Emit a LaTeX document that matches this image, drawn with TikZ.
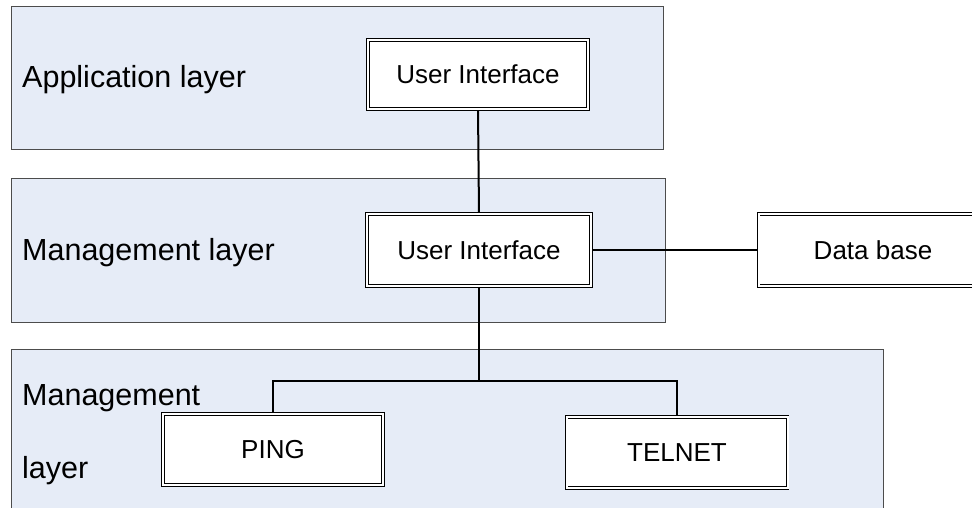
\documentclass[tikz,border=0pt]{standalone}
\usepackage{fontspec}
\setmainfont{Liberation Sans}
\usetikzlibrary{backgrounds}
\begin{document}
\begin{tikzpicture}[x=1pt,y=-1pt,
  layerbox/.style={draw=black!70,line width=1pt,fill=layerfill},
  layertext/.style={anchor=base west,inner sep=0pt,font=\fontsize{30.5}{36}\selectfont},
  modbox/.style={draw=black,line width=0.9pt,double=white,double distance=2pt,
    fill=white,inner sep=0pt,font=\fontsize{26}{31}\selectfont},
  conn/.style={draw=black,line width=2pt}]
\definecolor{layerfill}{RGB}{230,236,247}
\useasboundingbox (0,0) rectangle (972,508);
\clip (0,0) rectangle (972,508);
% labels of layers
\node[layertext] (lapp) at (22,88) {Application layer};
\node[layertext] (lmg1) at (22,260) {Management layer};
\node[layertext] (lmg2a) at (22,405) {Management};
\node[layertext] (lmg2b) at (22,478) {layer};
% modules
\node[modbox,minimum width=220,minimum height=69] (ui1) at (478,74.5) {User Interface};
\node[modbox,minimum width=224,minimum height=72] (ui2) at (479,250) {User Interface};
\node[modbox,minimum width=229,minimum height=72] (db) at (873,250) {Data base};
\node[modbox,minimum width=220,minimum height=71] (ping) at (273,449.5) {PING};
\node[modbox,minimum width=221,minimum height=71] (telnet) at (677,452.5) {TELNET};
\coordinate (br) at (479,381);
\begin{pgfonlayer}{background}
  % layers
  \path[layerbox] (11,7) rectangle (663,150);
  \path[layerbox] (11,178) rectangle (665,322);
  \path[layerbox] (11,349) rectangle (883,520);
  % connectors
  \draw[conn] (ui1.south) -- (ui2.north);
  \draw[conn] (ui2.east) -- (db.west);
  \draw[conn] (ui2.south) -- (br);
  \draw[conn] (ping.north) |- (br) -| (telnet.north);
\end{pgfonlayer}
\end{tikzpicture}
\end{document}
